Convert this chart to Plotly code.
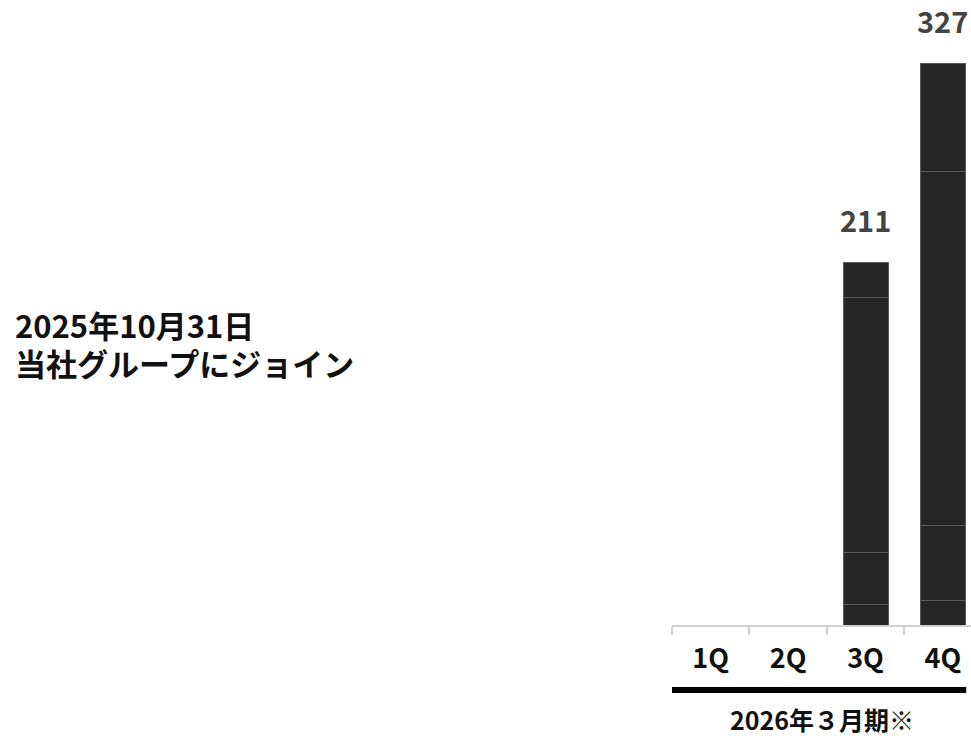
import plotly.graph_objects as go

categories = ["1Q", "2Q", "3Q", "4Q"]
seg1 = [0, 0, 12, 14]
seg2 = [0, 0, 30, 44]
seg3 = [0, 0, 149, 206]
seg4 = [0, 0, 20, 63]
totals = [None, None, 211, 327]
period_label = "2026年３月期※"
note_lines = ["2025年10月31日", "当社グループにジョイン"]

FONT = "Noto Sans CJK JP"
fig = go.Figure()
for seg in [seg1, seg2, seg3, seg4]:
    fig.add_trace(go.Bar(
        x=categories, y=seg,
        marker=dict(color="#262626", line=dict(color="#5a5a5a", width=1)),
        hoverinfo="skip", showlegend=False,
    ))

for c, t in zip(categories, totals):
    if t is not None:
        fig.add_annotation(
            x=c, y=t, text=f"<b>{t}</b>", showarrow=False,
            yanchor="bottom", yshift=21,
            font=dict(family=FONT, size=29, color="#444444"),
        )

fig.add_annotation(
    xref="paper", yref="paper", x=0.5, y=-0.151,
    text=f"<b>{period_label}</b>", showarrow=False,
    xanchor="center", yanchor="middle",
    font=dict(family=FONT, size=25, color="#111111"),
)
for i, line in enumerate(note_lines):
    fig.add_annotation(
        xref="paper", yref="paper", x=-2.205, y=0.4816 - 0.0608 * i,
        text=f"<b>{line}</b>", showarrow=False,
        xanchor="left", yanchor="middle", align="left",
        font=dict(family=FONT, size=31, color="#111111"),
    )
fig.add_shape(
    type="line", xref="paper", yref="paper",
    x0=0, x1=0.984, y0=-0.104, y1=-0.104,
    line=dict(color="#000000", width=6),
)

fig.update_layout(
    width=971, height=736,
    margin=dict(l=672, r=0, t=0, b=111, autoexpand=False),
    paper_bgcolor="white", plot_bgcolor="white",
    barmode="stack", bargap=0.42,
    xaxis=dict(
        type="category", range=[-0.5, 3.362],
        showline=True, linecolor="#d0d0d0", linewidth=2,
        ticks="outside", ticklen=8, tickcolor="#d0d0d0", tickwidth=2,
        tickson="boundaries", showgrid=False,
        tickfont=dict(family=FONT, size=27, color="#111111", weight="bold"),
        ticklabelstandoff=9,
    ),
    yaxis=dict(range=[0, 364.2], visible=False, showgrid=False, zeroline=False),
)

fig.write_html("out.html")
